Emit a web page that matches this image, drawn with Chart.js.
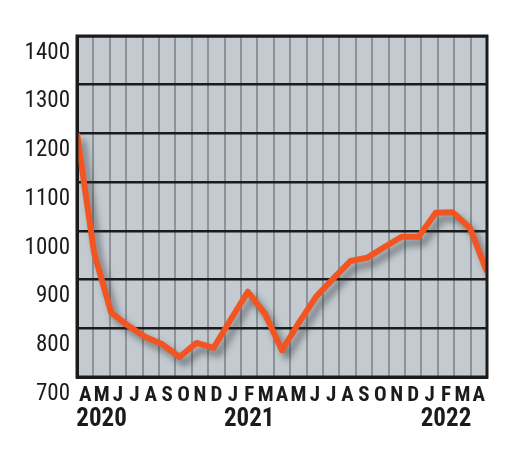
<!DOCTYPE html>
<html>
<head>
<meta charset="utf-8">
<style>
  html, body { margin: 0; padding: 0; background: #fff; }
  #wrap { width: 525px; height: 457px; }
</style>
<script src="https://cdn.jsdelivr.net/npm/chart.js@4/dist/chart.umd.min.js"></script>
</head>
<body>
<div id="wrap"><canvas id="chart"></canvas></div>
<script>
// Apr 2020 .. Apr 2022, one value per month
const months = ["A", "M", "J", "J", "A", "S", "O", "N", "D", "J", "F", "M",
                "A", "M", "J", "J", "A", "S", "O", "N", "D", "J", "F", "M", "A"];
const years = ["", "2020", "", "", "", "", "", "", "", "", "2021", "", "",
               "", "", "", "", "", "", "", "", "", "2022", "", ""];
const values = [1200, 955, 832, 805, 782, 767, 741, 770, 760, 818, 875, 830,
                755, 812, 865, 902, 938, 945, 967, 988, 988, 1037, 1038, 1006, 916];
const yTicks = [700, 800, 900, 1000, 1100, 1200, 1300, 1400];

const FONT = "'Liberation Sans Narrow', 'Roboto Condensed', 'DejaVu Sans Condensed', sans-serif";

// plot background, frame and the soft shadow under the line
const plotStyle = {
  id: "plotStyle",
  beforeDraw(chart) {
    const { ctx, chartArea: a } = chart;
    ctx.save();
    ctx.fillStyle = "#c4cbd0";
    ctx.fillRect(a.left, a.top, a.right - a.left, a.bottom - a.top);
    ctx.restore();
  },
  beforeDatasetsDraw(chart) {
    const ctx = chart.ctx;
    ctx.save();
    ctx.shadowColor = "rgba(40,45,50,0.55)";
    ctx.shadowBlur = 7;
    ctx.shadowOffsetX = 5;
    ctx.shadowOffsetY = 6;
  },
  afterDatasetsDraw(chart) {
    chart.ctx.restore();
  },
  afterDraw(chart) {
    const { ctx, chartArea: a } = chart;
    ctx.save();
    ctx.strokeStyle = "#1b1b1b";
    ctx.lineWidth = 3;
    ctx.strokeRect(a.left, a.top, a.right - a.left, a.bottom - a.top);
    ctx.restore();
  }
};

new Chart(document.getElementById("chart"), {
  type: "line",
  data: {
    datasets: [{
      data: values.map((v, i) => ({ x: i, y: v })),
      xAxisID: "x",
      yAxisID: "y",
      borderColor: "#f25522",
      borderWidth: 6,
      borderJoinStyle: "round",
      borderCapStyle: "butt",
      pointRadius: 0,
      tension: 0,
      fill: false
    }]
  },
  options: {
    responsive: true,
    maintainAspectRatio: false,
    animation: false,
    layout: { padding: { top: 36, right: 38, left: 0, bottom: 0 } },
    plugins: {
      legend: { display: false },
      tooltip: { enabled: false }
    },
    scales: {
      x: { type: "linear", display: false, min: 0, max: months.length - 1 },
      months: {
        type: "category",
        position: "bottom",
        labels: months,
        offset: true,
        grid: { offset: true, color: "#8d9399", lineWidth: 2, drawTicks: false },
        border: { color: "#1b1b1b", width: 3 },
        ticks: {
          autoSkip: false, maxRotation: 0, padding: 6, color: "#1b1b1b",
          font: { family: FONT, size: 21, weight: "bold" }
        },
        afterFit(scale) { scale.height = 28; }
      },
      years: {
        type: "category",
        position: "bottom",
        labels: years,
        offset: true,
        grid: { display: false, drawTicks: false },
        border: { display: false },
        ticks: {
          autoSkip: false, maxRotation: 0, padding: 0, color: "#1b1b1b",
          font: { family: FONT, size: 25, weight: "bold" }
        },
        afterFit(scale) { scale.height = 52; }
      },
      y: {
        type: "linear",
        min: 700,
        max: 1400,
        afterBuildTicks(scale) { scale.ticks = yTicks.map(v => ({ value: v })); },
        grid: { color: "#1b1b1b", lineWidth: 2.5, drawTicks: false },
        border: { color: "#1b1b1b", width: 3 },
        ticks: {
          padding: 7, labelOffset: 17, color: "#1b1b1b",
          font: { family: FONT, size: 23 },
          callback: v => String(v)
        },
        afterFit(scale) { scale.width = 77; }
      }
    }
  },
  plugins: [plotStyle]
});
</script>
</body>
</html>
